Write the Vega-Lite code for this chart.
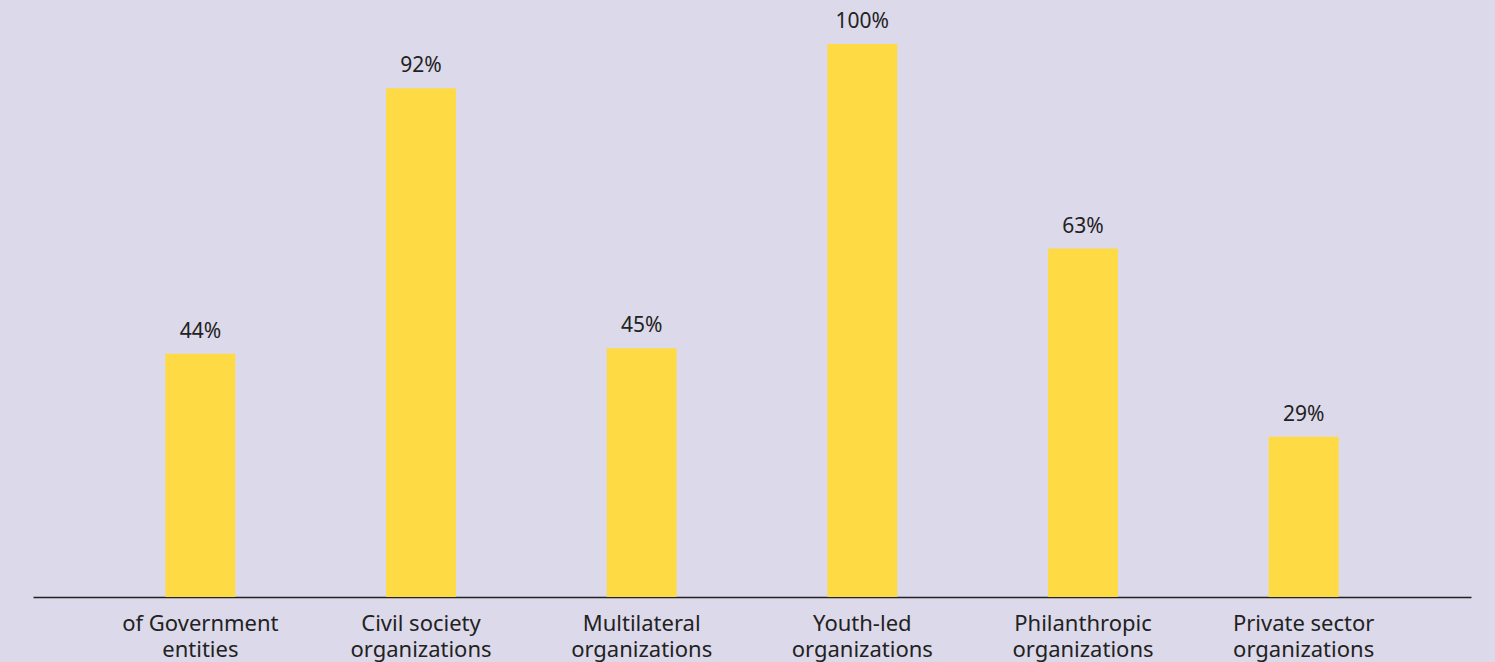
{
  "$schema": "https://vega.github.io/schema/vega-lite/v6.json",
  "width": 1438,
  "height": 553,
  "autosize": {"type": "none"},
  "padding": {"left": 33, "top": 44, "right": 24, "bottom": 65},
  "background": "#dcd9ea",
  "config": {"view": {"stroke": null}, "font": "Noto Sans"},
  "data": {
    "values": [
      {"category": "of Government entities", "value": 0.44},
      {"category": "Civil society organizations", "value": 0.92},
      {"category": "Multilateral organizations", "value": 0.45},
      {"category": "Youth-led organizations", "value": 1.0},
      {"category": "Philanthropic organizations", "value": 0.63},
      {"category": "Private sector organizations", "value": 0.29}
    ]
  },
  "encoding": {
    "x": {
      "field": "category",
      "type": "nominal",
      "sort": null,
      "scale": {"paddingInner": 0.683, "paddingOuter": 0.6},
      "axis": {
        "title": null,
        "labelAngle": 0,
        "ticks": false,
        "domainColor": "#222222",
        "domainWidth": 1.5,
        "labelFontSize": 22,
        "labelColor": "#222222",
        "labelPadding": 16,
        "labelLineHeight": 26,
        "labelExpr": "[slice(datum.label, 0, lastindexof(datum.label, ' ')), slice(datum.label, lastindexof(datum.label, ' ') + 1)]"
      }
    },
    "y": {
      "field": "value",
      "type": "quantitative",
      "scale": {"domain": [0, 1], "nice": false},
      "axis": null
    }
  },
  "layer": [
    {"mark": {"type": "bar", "color": "#fedb45"}},
    {
      "mark": {"type": "text", "dy": -16, "baseline": "alphabetic", "fontSize": 21, "color": "#222222"},
      "encoding": {"text": {"field": "value", "type": "quantitative", "format": ".0%"}}
    }
  ]
}
